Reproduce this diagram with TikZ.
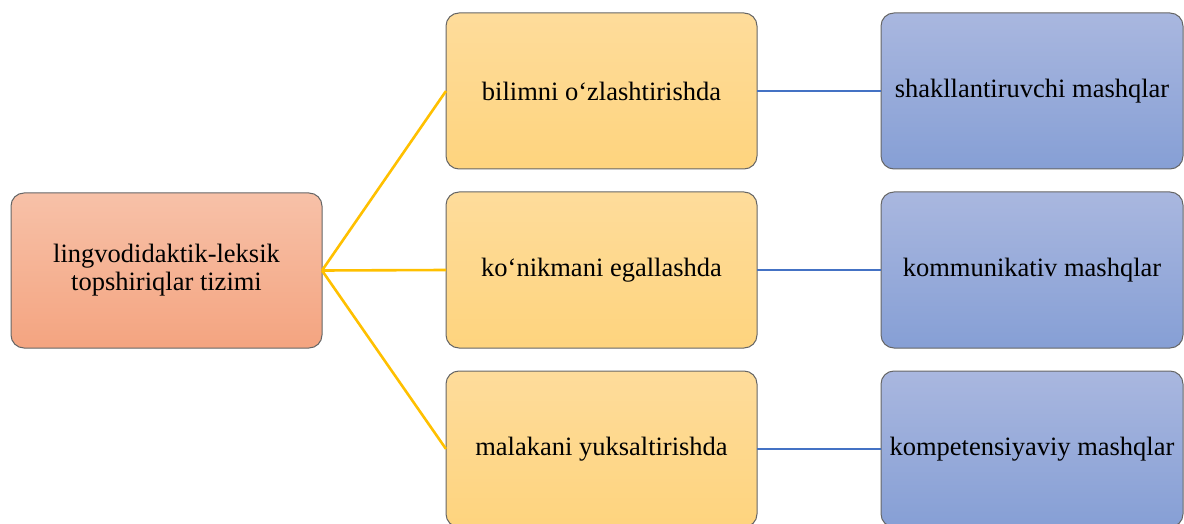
\documentclass[tikz,border=0pt]{standalone}
\usepackage{fontspec}
\setmainfont{Liberation Serif}
\definecolor{lTop}{HTML}{F7C1A8}
\definecolor{lBot}{HTML}{F4A480}
\definecolor{mTop}{HTML}{FEDC9B}
\definecolor{mBot}{HTML}{FED47E}
\definecolor{rTop}{HTML}{A9B7DF}
\definecolor{rBot}{HTML}{869FD5}
\definecolor{edge}{HTML}{666666}
\definecolor{yline}{HTML}{FFC000}
\definecolor{bline}{HTML}{4472C4}
\tikzset{
  box/.style={draw=edge, line width=1pt, rounded corners=13pt, inner sep=0pt, outer sep=0pt,
    align=center, font=\fontsize{26.5}{28}\selectfont, shading=axis, shading angle=0},
  lbox/.style={box, top color=lTop, bottom color=lBot, minimum width=311pt, minimum height=155pt},
  mbox/.style={box, top color=mTop, bottom color=mBot, minimum width=311pt, minimum height=156pt},
  rbox/.style={box, top color=rTop, bottom color=rBot, minimum width=302pt, minimum height=156pt},
  yconn/.style={draw=yline, line width=2.6pt},
  bconn/.style={draw=bline, line width=2.6pt}
}
\begin{document}
\begin{tikzpicture}[x=1pt,y=1pt]
\useasboundingbox (0,0) rectangle (1184,523);
\clip (0,0) rectangle (1184,523);
\node[lbox] (L) at (166.5,252.5) {lingvodidaktik-leksik\\topshiriqlar tizimi};
\node[mbox] (M1) at (601.5,432) {bilimni o‘zlashtirishda};
\node[mbox] (M2) at (601.5,253) {ko‘nikmani egallashda};
\node[mbox] (M3) at (601.5,74) {malakani yuksaltirishda};
\node[rbox] (R1) at (1032,432) {shakllantiruvchi mashqlar};
\node[rbox] (R2) at (1032,253) {kommunikativ mashqlar};
\node[rbox] (R3) at (1032,74) {kompetensiyaviy mashqlar};
\draw[yconn] (L.east) -- (M1.west);
\draw[yconn] (L.east) -- (M2.west);
\draw[yconn] (L.east) -- (M3.west);
\draw[bconn] (M1.east) -- (R1.west);
\draw[bconn] (M2.east) -- (R2.west);
\draw[bconn] (M3.east) -- (R3.west);
\end{tikzpicture}
\end{document}
